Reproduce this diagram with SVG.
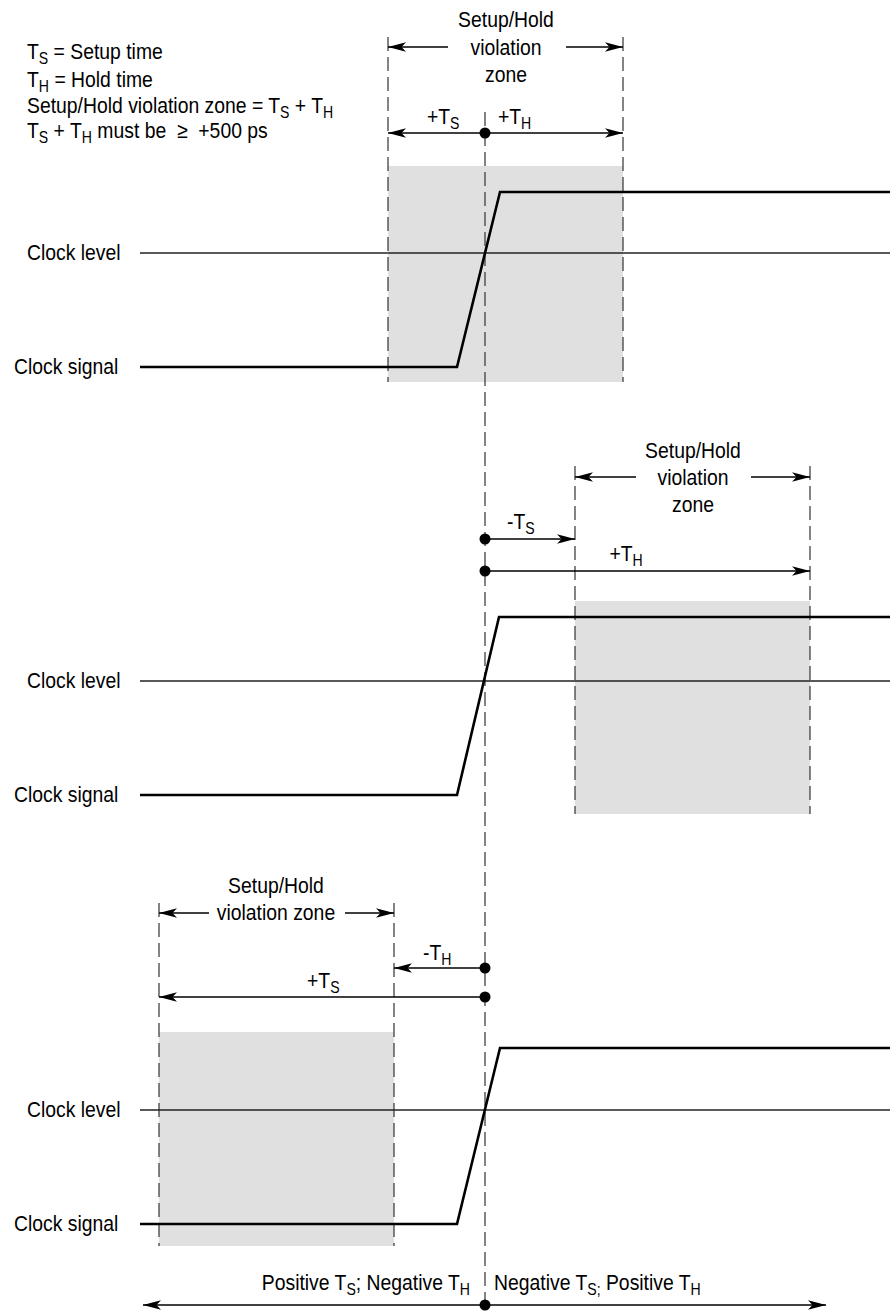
<svg xmlns="http://www.w3.org/2000/svg" width="890" height="1315" viewBox="0 0 890 1315">
<defs>
<style>
text{font-family:"Liberation Sans",Arial,sans-serif;font-size:22px;fill:#000}
.c{text-anchor:middle}
.e{text-anchor:end}
.sub{font-size:16px}
.dash{stroke:#333;stroke-width:1.2;stroke-dasharray:14 6;fill:none}
.zone{fill:#e0e0e0;stroke:none}
.sig{stroke:#000;stroke-width:2.6;fill:none;stroke-linejoin:miter}
.lvl{stroke:#222;stroke-width:1.3;fill:none}
.arr{stroke:#000;stroke-width:1.7;fill:none;marker-end:url(#ah)}
.arr2{stroke:#000;stroke-width:1.7;fill:none;marker-end:url(#ah);marker-start:url(#ahs)}
.dot{fill:#000}
</style>
<marker id="ah" markerUnits="userSpaceOnUse" markerWidth="19" markerHeight="12" refX="18" refY="6" orient="auto">
<path d="M0,1.2 L18,6 L0,10.8 L4.5,6 z" fill="#000"/>
</marker>
<marker id="ahs" markerUnits="userSpaceOnUse" markerWidth="19" markerHeight="12" refX="18" refY="6" orient="auto-start-reverse">
<path d="M0,1.2 L18,6 L0,10.8 L4.5,6 z" fill="#000"/>
</marker>
</defs>
<rect width="890" height="1315" fill="#fff"/>

<g id="legend" transform="scale(0.88,1)">
<text x="30.7" y="59">T<tspan class="sub" dy="5">S</tspan><tspan dy="-5"> = Setup time</tspan></text>
<text x="30.7" y="87">T<tspan class="sub" dy="5">H</tspan><tspan dy="-5"> = Hold time</tspan></text>
<text x="30.7" y="113">Setup/Hold violation zone = T<tspan class="sub" dy="5">S</tspan><tspan dy="-5"> + T</tspan><tspan class="sub" dy="5">H</tspan></text>
<text x="30.7" y="138">T<tspan class="sub" dy="5">S</tspan><tspan dy="-5"> + T</tspan><tspan class="sub" dy="5">H</tspan><tspan dy="-5"> must be &#160;≥ &#160;+500 ps</tspan></text>
</g>

<g id="zones">
<rect class="zone" x="388" y="166" width="235" height="216"/>
<rect class="zone" x="575" y="601" width="235" height="213"/>
<rect class="zone" x="159" y="1032" width="235" height="214"/>
</g>

<g id="guides">
<line class="dash" x1="485" y1="112" x2="485" y2="1305"/>
<line class="dash" x1="388" y1="37" x2="388" y2="382"/>
<line class="dash" x1="623" y1="37" x2="623" y2="382"/>
<line class="dash" x1="575" y1="466" x2="575" y2="814"/>
<line class="dash" x1="810" y1="466" x2="810" y2="814"/>
<line class="dash" x1="159" y1="903" x2="159" y2="1246"/>
<line class="dash" x1="394" y1="903" x2="394" y2="1246"/>
</g>

<g id="clock1">
<line class="lvl" x1="140" y1="253" x2="890" y2="253"/>
<polyline class="sig" points="140,367 457,367 500,192 890,192"/>
<text transform="scale(0.88,1)" x="30.7" y="260">Clock level</text>
<text transform="scale(0.88,1)" x="15.9" y="374">Clock signal</text>
</g>

<g id="clock2">
<line class="lvl" x1="140" y1="681" x2="890" y2="681"/>
<polyline class="sig" points="140,795 457,795 499,617 890,617"/>
<text transform="scale(0.88,1)" x="30.7" y="688">Clock level</text>
<text transform="scale(0.88,1)" x="15.9" y="802">Clock signal</text>
</g>

<g id="clock3">
<line class="lvl" x1="140" y1="1110" x2="890" y2="1110"/>
<polyline class="sig" points="140,1224 457,1224 500,1048 890,1048"/>
<text transform="scale(0.88,1)" x="30.7" y="1117">Clock level</text>
<text transform="scale(0.88,1)" x="15.9" y="1231">Clock signal</text>
</g>

<g id="labels" transform="scale(0.88,1)">
<text class="c" x="575" y="27">Setup/Hold</text>
<text class="c" x="575" y="55">violation</text>
<text class="c" x="575" y="82">zone</text>
<text x="485.2" y="124">+T<tspan class="sub" dy="5">S</tspan></text>
<text x="565.9" y="124">+T<tspan class="sub" dy="5">H</tspan></text>

<text class="c" x="787.5" y="458">Setup/Hold</text>
<text class="c" x="787.5" y="485">violation</text>
<text class="c" x="787.5" y="512">zone</text>
<text x="576.1" y="529">-T<tspan class="sub" dy="5">S</tspan></text>
<text x="692.6" y="561">+T<tspan class="sub" dy="5">H</tspan></text>

<text class="c" x="313.6" y="893">Setup/Hold</text>
<text class="c" x="313.6" y="920">violation zone</text>
<text x="480.7" y="960">-T<tspan class="sub" dy="5">H</tspan></text>
<text x="348.9" y="988">+T<tspan class="sub" dy="5">S</tspan></text>

<text class="e" x="534.1" y="1290">Positive T<tspan class="sub" dy="5">S</tspan><tspan dy="-5">; Negative T</tspan><tspan class="sub" dy="5">H</tspan></text>
<text x="561.4" y="1290">Negative T<tspan class="sub" dy="5">S;</tspan><tspan dy="-5"> Positive T</tspan><tspan class="sub" dy="5">H</tspan></text>
</g>

<g id="connectors">
<line class="arr" x1="448" y1="47" x2="388" y2="47"/>
<line class="arr" x1="566" y1="47" x2="623" y2="47"/>
<line class="arr" x1="485" y1="133" x2="388" y2="133"/>
<line class="arr" x1="485" y1="133" x2="623" y2="133"/>

<line class="arr" x1="636" y1="477" x2="575" y2="477"/>
<line class="arr" x1="751" y1="477" x2="810" y2="477"/>
<line class="arr" x1="485" y1="539" x2="575" y2="539"/>
<line class="arr" x1="485" y1="571" x2="810" y2="571"/>

<line class="arr" x1="209" y1="913" x2="159" y2="913"/>
<line class="arr" x1="345" y1="913" x2="394" y2="913"/>
<line class="arr" x1="485" y1="968" x2="394" y2="968"/>
<line class="arr" x1="485" y1="997" x2="159" y2="997"/>

<line class="arr2" x1="143" y1="1305" x2="826" y2="1305"/>

<circle class="dot" cx="485" cy="133" r="5.5"/>
<circle class="dot" cx="485" cy="539" r="5.5"/>
<circle class="dot" cx="485" cy="571" r="5.5"/>
<circle class="dot" cx="485" cy="968" r="5.5"/>
<circle class="dot" cx="485" cy="997" r="5.5"/>
<circle class="dot" cx="485" cy="1305" r="5.5"/>
</g>
</svg>
